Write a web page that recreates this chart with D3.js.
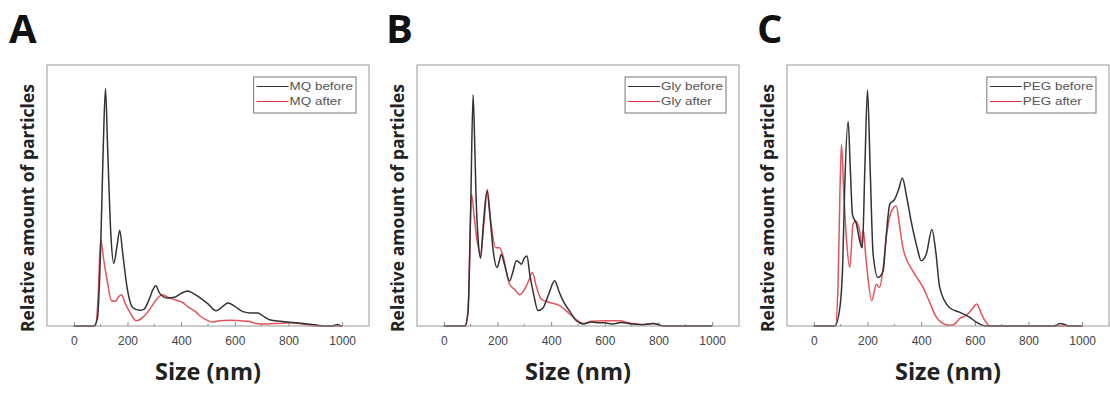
<!DOCTYPE html>
<meta charset="utf-8">
<style>
body { margin: 0; background: #fff; }
svg { display: block; }
.frame { fill: none; stroke: #9a9a9a; stroke-width: 1; }
.tick text { font: 12px "Liberation Sans", Arial, sans-serif; fill: #444; }
.tick line, .minor line { stroke: #888; }
.axis path { stroke: #888; }
.panel-label { font: bold 40px "Open Sans", sans-serif; fill: #111; }
.ylab { font: bold 17px "Open Sans", sans-serif; fill: #222; }
.xlab { font: bold 23px "Open Sans", sans-serif; fill: #222; }
.legend text { font: 11px "Liberation Sans", Arial, sans-serif; fill: #555; }
.legend rect { fill: #fff; stroke: #777; stroke-width: 1; }
.line { fill: none; stroke-width: 1.5; stroke-linejoin: round; }
</style>
<body>
<svg width="1110" height="396"></svg>
<script src="https://d3js.org/d3.v7.min.js"></script>
<script>

// ---- data (size in nm, relative amount) ----
var panelNames = ["A", "B", "C"];
var seriesNames = [["MQ before", "MQ after"], ["Gly before", "Gly after"], ["PEG before", "PEG after"]];
var xTicks = [0, 200, 400, 600, 800, 1000];
var xMinor = [100, 300, 500, 700, 900];

var sizeA_before = [0, 75, 88, 100, 110, 118, 126, 138, 149, 160, 171, 182, 198, 220, 245, 262, 280, 295, 305, 320, 350, 375, 400, 424, 445, 468, 500, 530, 555, 574, 600, 630, 660, 685, 710, 730, 770, 820, 870, 915, 960, 985, 995, 1000];
var valA_before  = [0, 0, 3, 30, 70, 91, 68, 35, 24, 30, 36.7, 28, 15, 7, 6, 6.5, 10, 14, 15.4, 12.5, 10.7, 11, 12.5, 13.4, 12.5, 11, 8.5, 5.8, 7.5, 8.8, 7.5, 5.5, 5, 5, 3.5, 2.4, 1.8, 1.3, 0.8, 0.2, 0, 0.6, 0, 0];
var sizeA_after  = [0, 80, 90, 100, 112, 125, 140, 155, 165, 177, 190, 210, 233, 258, 280, 300, 315, 331, 350, 369, 385, 405, 430, 456, 468, 493, 518, 540, 580, 620, 650, 680, 720, 760, 800, 850, 900, 1000];
var valA_after   = [0, 0, 10, 33, 25, 17, 9.7, 9.5, 11, 12, 9, 5, 2, 3.4, 6, 9, 11, 12, 11, 10.3, 9.8, 9, 7, 5.3, 4, 2.4, 1.5, 2, 2.2, 2, 1.8, 1, 0.8, 1, 1.2, 0.8, 0, 0];

var sizeB_before = [0, 78, 90, 100, 109, 115, 120, 128, 137, 148, 161, 172, 185, 198, 207, 214, 225, 245, 258, 270, 280, 289, 300, 310, 320, 335, 351, 370, 390, 413, 430, 444, 470, 494, 520, 550, 580, 600, 630, 660, 700, 740, 780, 820, 1000];
var valB_before  = [0, 0, 5, 45, 88.5, 70, 50, 33, 26, 40, 51.7, 42, 28, 22.4, 25, 27.5, 24, 17.3, 21, 25, 24.5, 23.7, 26, 26.8, 20, 12, 5.9, 7, 12, 17.3, 13, 9.7, 5.5, 2, 0.8, 1.5, 1.2, 1.2, 0.8, 1.3, 0.8, 0.5, 1, 0, 0];
var sizeB_after  = [0, 82, 92, 103, 115, 125, 136, 150, 162, 175, 193, 208, 220, 245, 264, 283, 301, 315, 330, 345, 363, 394, 432, 469, 500, 520, 550, 600, 650, 700, 740, 780, 820, 1000];
var valB_after   = [0, 0, 10, 50.4, 40, 32, 27.5, 40, 52.3, 40, 30, 30, 27, 16, 14, 12, 14, 17, 20.5, 15, 10.3, 9, 7.8, 4.6, 2, 1, 1.8, 2, 2, 1, 0.6, 1, 0, 0];

var sizeC_before = [0, 78, 97, 108, 115, 128, 136, 144, 159, 171, 181, 190, 200, 210, 221, 239, 258, 270, 283, 301, 315, 330, 345, 363, 385, 400, 419, 440, 455, 469, 506, 543, 580, 605, 640, 900, 915, 935, 950, 1000];
var valC_before  = [0, 0, 7, 25, 53, 78.4, 60, 42.7, 39, 32.6, 30, 60, 90.5, 60, 27.5, 18.6, 21, 35, 46.6, 48.5, 52, 56.7, 50, 40, 30, 25, 27.5, 37, 28, 14.8, 7, 5.3, 3.4, 1.5, 0, 0, 1, 0.6, 0, 0];
var sizeC_after  = [0, 80, 90, 97, 103, 112, 122, 134, 146, 156, 171, 177, 184, 195, 216, 233, 245, 258, 270, 289, 307, 320, 332, 369, 407, 432, 457, 481, 500, 520, 545, 570, 590, 607, 625, 645, 660, 1000];
var valC_after   = [0, 0, 15, 50, 69.5, 50, 32.6, 22.4, 39, 40.2, 36.4, 30, 37, 25, 9.7, 16, 14.8, 22, 33.8, 44, 46, 38, 30, 21, 14.8, 9, 3.3, 1, 0.3, 0.5, 3, 4.2, 6.5, 8.4, 4.5, 1, 0, 0];

var sizes = [[sizeA_before, sizeA_after], [sizeB_before, sizeB_after], [sizeC_before, sizeC_after]];
var values = [[valA_before, valA_after], [valB_before, valB_after], [valC_before, valC_after]];
var colors = ["#333333", "#e0343f"];

// ---- layout ----
var svg = d3.select("svg");
var panelW = 370, plotTop = 65, plotBottom = 326;
var letterX = [9, 386, 757];

panelNames.forEach(function(name, p) {
    var off = p * panelW;
    var left = off + 47, right = off + 369;

    var x = d3.scaleLinear().domain([-100, 1100]).range([left, right]);
    var y = d3.scaleLinear().domain([0, 100]).range([plotBottom, plotTop]);

    var g = svg.append("g");

    g.append("text")
        .attr("class", "panel-label")
        .attr("x", letterX[p])
        .attr("y", 43)
        .text(name);

    // axis
    var axis = g.append("g")
        .attr("class", "axis")
        .attr("transform", "translate(0," + plotBottom + ")")
        .call(d3.axisBottom(x).tickValues(xTicks).tickFormat(d3.format("d"))
            .tickSize(-4).tickPadding(10).tickSizeOuter(0));
    axis.select(".domain").remove();

    g.append("g").attr("class", "minor")
        .selectAll("line").data(xMinor).enter().append("line")
        .attr("x1", function(d) { return x(d); })
        .attr("x2", function(d) { return x(d); })
        .attr("y1", plotBottom).attr("y2", plotBottom - 2);

    // lines
    var line = d3.line()
        .x(function(d) { return x(d[0]); })
        .y(function(d) { return y(d[1]); })
        .curve(d3.curveMonotoneX);

    [1, 0].forEach(function(s) {
        var pts = sizes[p][s].map(function(v, i) { return [v, values[p][s][i]]; });
        g.append("path")
            .attr("class", "line")
            .attr("stroke", colors[s])
            .attr("stroke-opacity", s == 1 ? 0.85 : 1)
            .attr("d", line(pts));
    });

    g.append("rect")
        .attr("class", "frame")
        .attr("x", left).attr("y", plotTop)
        .attr("width", right - left).attr("height", plotBottom - plotTop);

    // legend
    var leg = g.append("g").attr("class", "legend");
    var box = leg.append("rect");
    var widths = seriesNames[p].map(function(t, i) {
        var tx = leg.append("text")
            .attr("y", 90 + i * 15)
            .text(t);
        var w = tx.node().getComputedTextLength() * 1.22;
        tx.attr("textLength", w).attr("lengthAdjust", "spacingAndGlyphs");
        return w;
    });
    var boxW = 36 + d3.max(widths) + 3;
    var bx = right - 13 - boxW;
    box.attr("x", bx).attr("y", 77).attr("width", boxW).attr("height", 36);
    leg.selectAll("text").attr("x", bx + 36);
    seriesNames[p].forEach(function(t, i) {
        leg.append("line")
            .attr("x1", bx + 3).attr("x2", bx + 35)
            .attr("y1", 86.5 + i * 15).attr("y2", 86.5 + i * 15)
            .attr("stroke", colors[i]).attr("stroke-width", 1.2);
    });

    // axis titles
    g.append("text")
        .attr("class", "ylab")
        .attr("transform", "translate(" + (off + 34) + ",208) rotate(-90)")
        .attr("text-anchor", "middle")
        .attr("textLength", 248).attr("lengthAdjust", "spacingAndGlyphs")
        .text("Relative amount of particles");

    g.append("text")
        .attr("class", "xlab")
        .attr("x", (left + right) / 2)
        .attr("y", 380)
        .attr("text-anchor", "middle")
        .attr("textLength", 106).attr("lengthAdjust", "spacingAndGlyphs")
        .text("Size (nm)");
});

</script>
